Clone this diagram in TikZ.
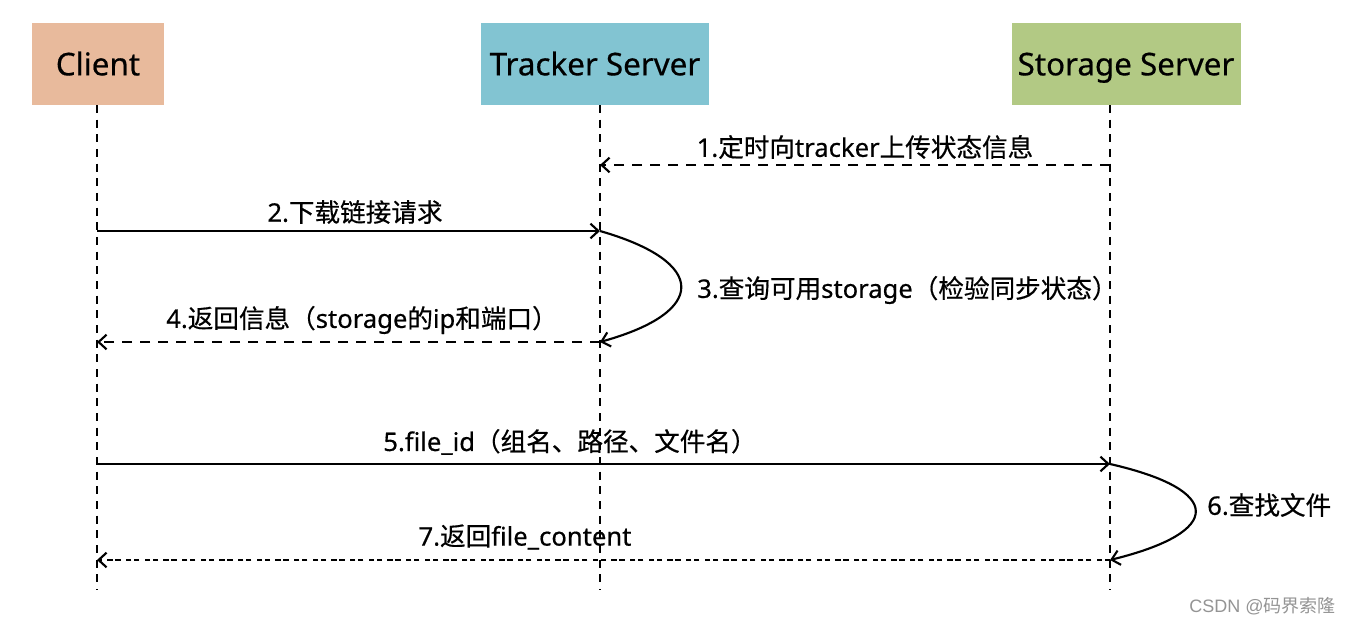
\documentclass[tikz,border=0pt]{standalone}
\usepackage{fontspec}
\setmainfont{Noto Sans}[FakeBold=0.5]
\newfontfamily\zhfont{Noto Sans CJK SC}[FakeBold=0.5]
\newfontfamily\markfont{Liberation Sans}
\newfontfamily\markzh{Noto Sans CJK SC}
\usetikzlibrary{arrows.meta}
\definecolor{clientfill}{RGB}{232,186,156}
\definecolor{trackerfill}{RGB}{130,196,210}
\definecolor{storagefill}{RGB}{178,201,132}
\newcommand{\cn}[1]{{\zhfont #1}}
\begin{document}
\begin{tikzpicture}
	[x=0.75pt, y=-0.75pt, line join=round,
	>={Straight Barb[length=6pt,width=11pt]},
	role/.style={minimum height=61pt, inner sep=0pt, text height=17pt, text depth=0pt,
		font=\fontsize{23.5}{28}\selectfont},
	lifeline/.style={line width=1.6pt, dash pattern=on 6pt off 5pt},
	msg/.style={line width=1.6pt, ->},
	reply/.style={msg, dash pattern=on 7.5pt off 6pt},
	back/.style={msg, dash pattern=on 4pt off 2pt on 4pt off 4pt},
	lbl/.style={font=\fontsize{19.2}{23}\selectfont, inner sep=0pt}]
	\useasboundingbox (0,0) rectangle (1350,624);
	% lifelines
	\coordinate (cTop) at (97,105); \coordinate (cBot) at (97,590);
	\coordinate (tTop) at (600,105); \coordinate (tBot) at (600,590);
	\coordinate (sTop) at (1110,105); \coordinate (sBot) at (1110,590);
	\draw[lifeline] (cTop)--(cBot) (tTop)--(tBot) (sTop)--(sBot);
	% roles
	\node[role, fill=clientfill, minimum width=99pt] (client) at (98,64) {Client};
	\node[role, fill=trackerfill, minimum width=171pt] (tracker) at (595,64) {Tracker Server};
	\node[role, fill=storagefill, minimum width=171.75pt] (storage) at (1126,64) {Storage Server};
	% message points
	\coordinate (s1) at (1110,165); \coordinate (t1) at (600,165);
	\coordinate (c2) at (97,231); \coordinate (t2) at (600,231);
	\coordinate (t4) at (600,342); \coordinate (c4) at (97,342);
	\coordinate (c5) at (97,464); \coordinate (s5) at (1110,464);
	\coordinate (s7) at (1110,560); \coordinate (c7) at (97,560);
	% messages
	\draw[reply] (s1)--(t1);
	\draw[msg] (c2)--(t2);
	\draw[msg] (t2) .. controls (708,262) and (708,312) .. (t4);
	\draw[reply] (t4)--(c4);
	\draw[msg] (c5)--(s5);
	\draw[msg] (s5) .. controls (1224,490) and (1224,532) .. (s7);
	\draw[back] (s7)--(c7);
	% labels
	\node[lbl] (l1) at (865,147) {1.\cn{定时向}tracker\cn{上传状态信息}};
	\node[lbl] (l2) at (355,212) {2.\cn{下载链接请求}};
	\node[lbl, anchor=west] (l3) at (697,290) {3.\cn{查询可用}storage\cn{（检验同步状态）}};
	\node[lbl] (l4) at (362,320) {4.\cn{返回信息（}storage\cn{的}ip\cn{和端口）}};
	\node[lbl] (l5) at (570,442) {5.file\_id\cn{（组名、路径、文件名）}};
	\node[lbl, anchor=west] (l6) at (1207,505) {6.\cn{查找文件}};
	\node[lbl] (l7) at (525,537) {7.\cn{返回}file\_content};
	\node[font=\fontsize{13.5}{16}\selectfont, text=black!42, anchor=east, inner sep=0pt] (mark)
		at (1336,606) {\markfont CSDN @\markzh 码界索隆};
\end{tikzpicture}
\end{document}
